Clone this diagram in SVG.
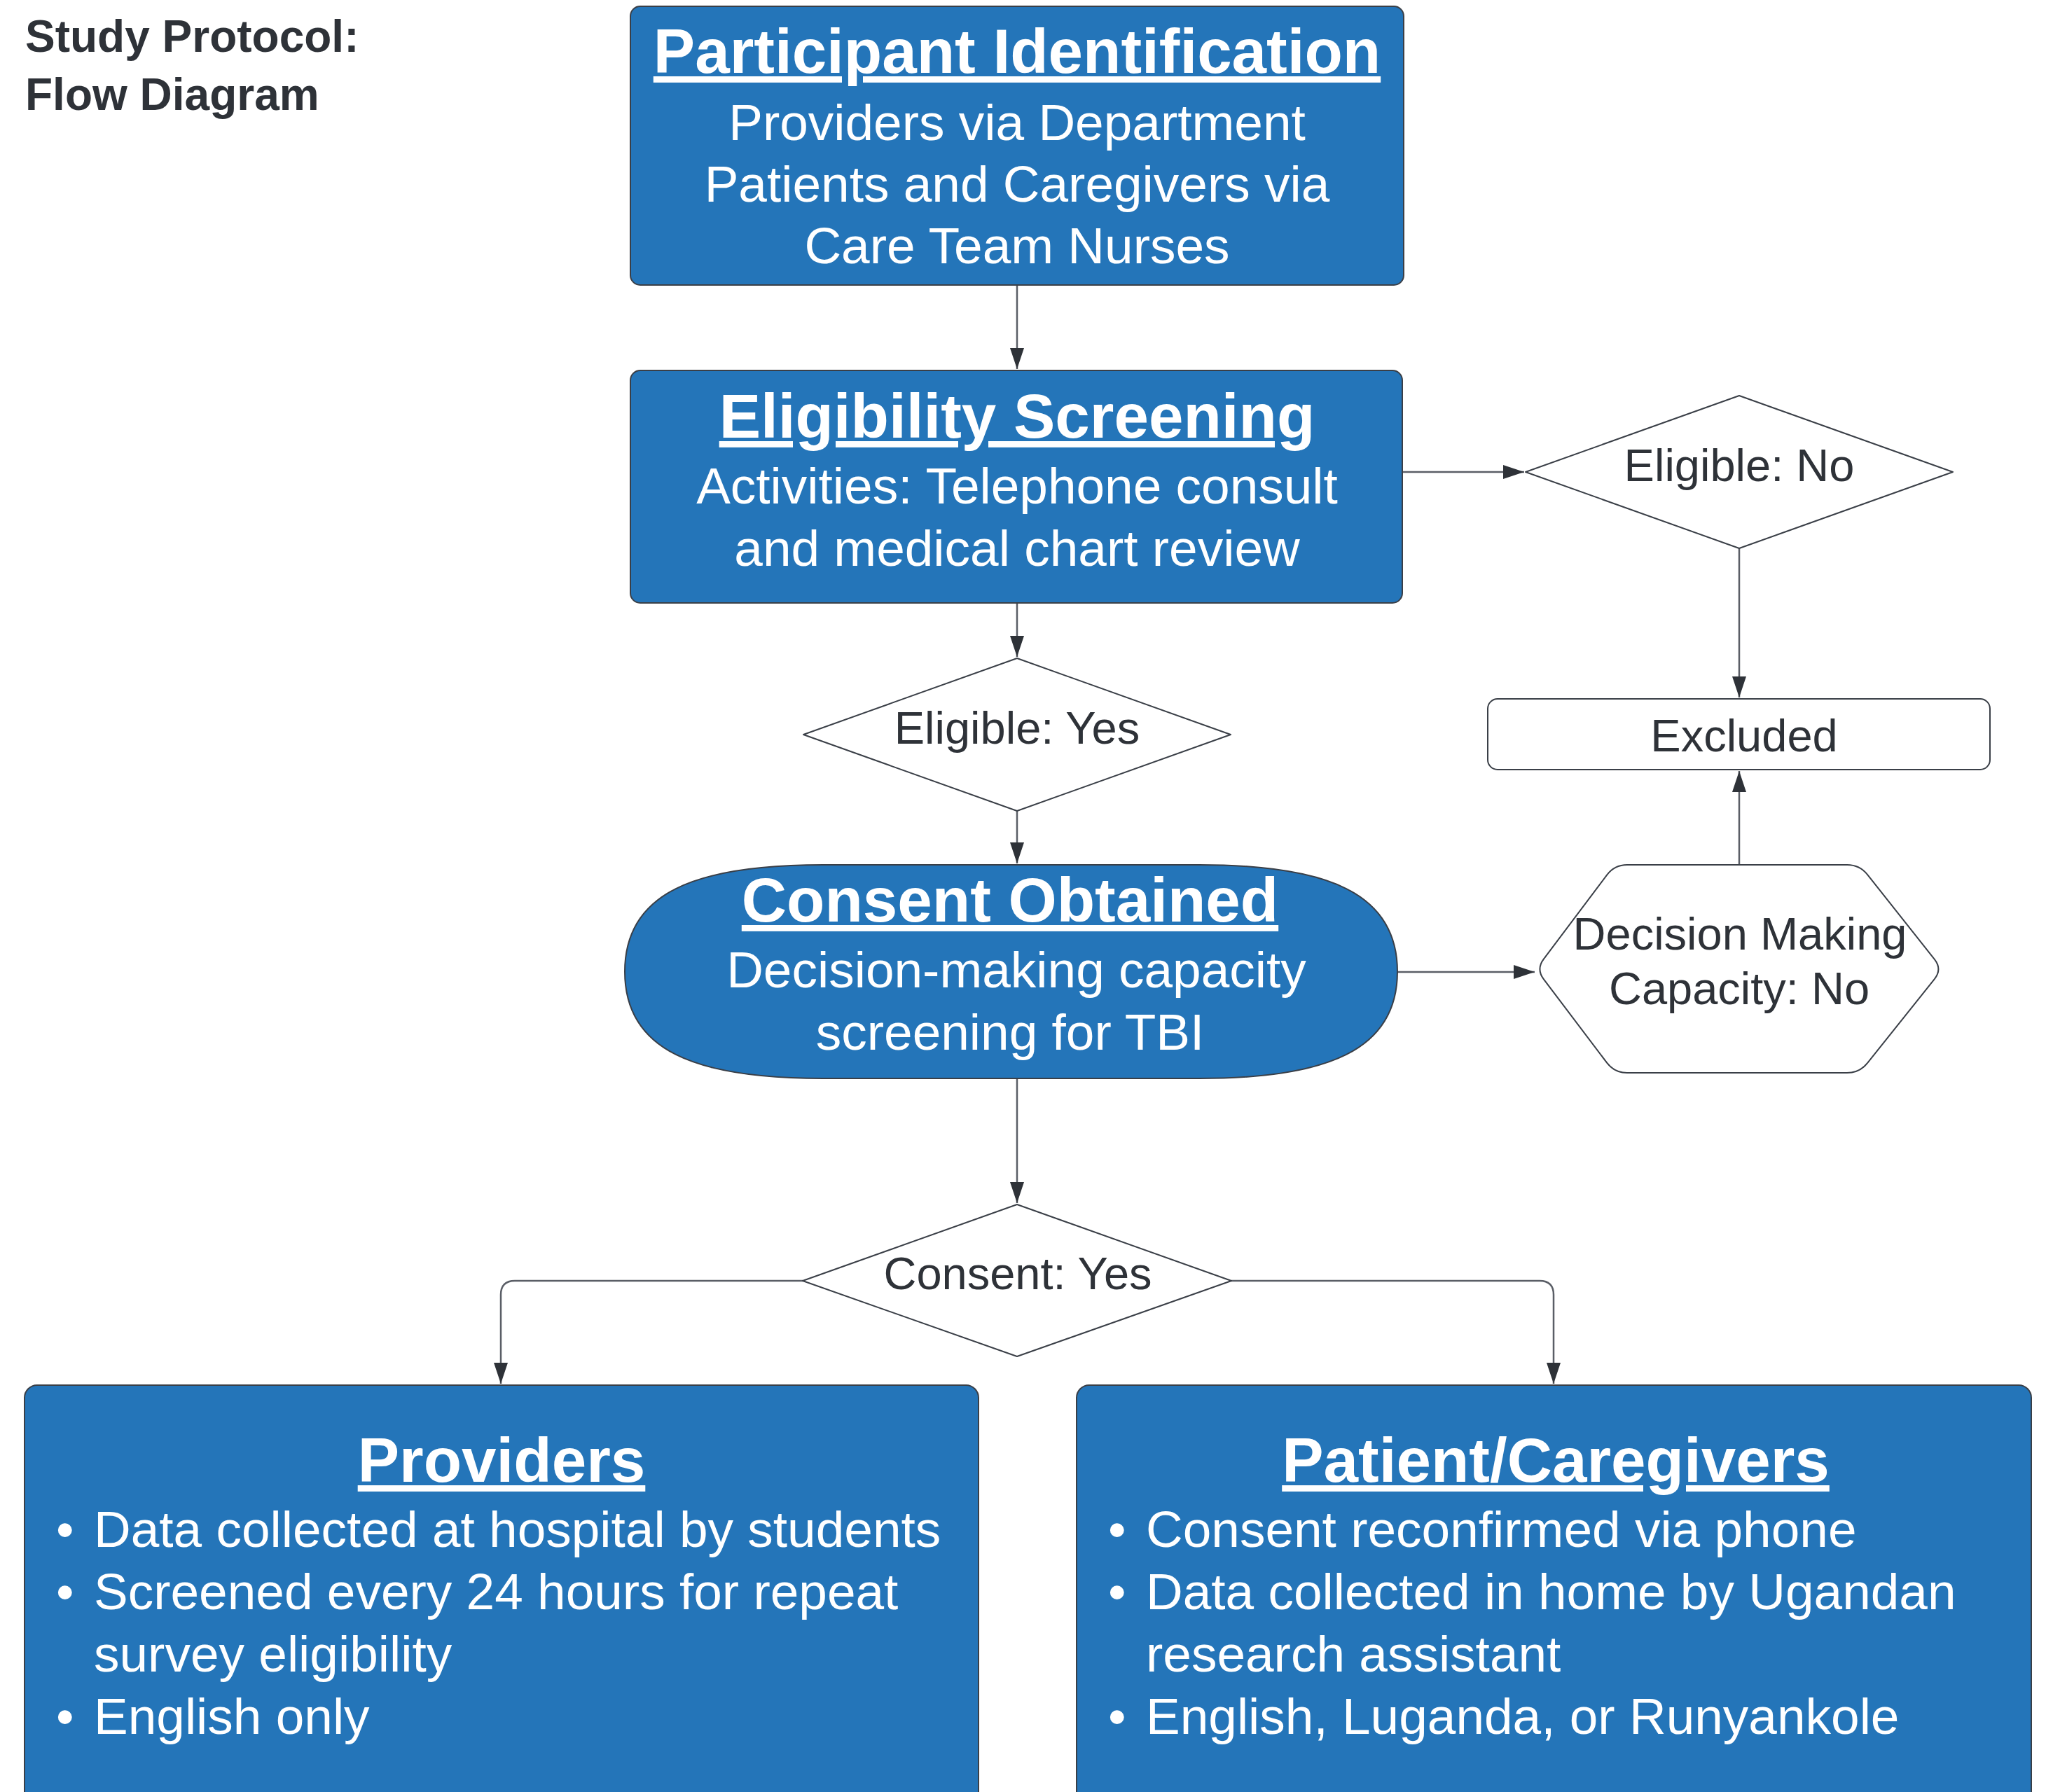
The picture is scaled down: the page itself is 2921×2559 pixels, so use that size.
<svg xmlns="http://www.w3.org/2000/svg" width="2921" height="2559" viewBox="0 0 2921 2559">
<style>
.blue{fill:#2475b9;stroke:#3a3f47;stroke-width:2}
.white{fill:#ffffff;stroke:#3a3f47;stroke-width:2;stroke-linejoin:round}
.hd{font-family:"Liberation Sans",Arial,sans-serif;font-weight:bold;font-size:89px;fill:#ffffff;text-anchor:middle;text-decoration:underline}
.bd{font-family:"Liberation Sans",Arial,sans-serif;font-size:73px;fill:#ffffff}
.c{text-anchor:middle}
.lb{font-family:"Liberation Sans",Arial,sans-serif;font-size:65px;fill:#2e3238;text-anchor:middle}
.ttl{font-family:"Liberation Sans",Arial,sans-serif;font-weight:bold;font-size:64px;fill:#2e3238}
.conn{fill:none;stroke:#5a5e66;stroke-width:2.5}
</style>
<defs>
<marker id="arr" markerUnits="userSpaceOnUse" markerWidth="32" markerHeight="22" refX="30" refY="10" orient="auto">
<path d="M0,0 L30,10 L0,20 Z" fill="#2e3238"/>
</marker>
</defs>
<rect width="2921" height="2559" fill="#ffffff"/>

<g id="title">
<text class="ttl" x="36" y="74">Study Protocol:</text>
<text class="ttl" x="36" y="157">Flow Diagram</text>
</g>

<g id="connectors">
<path class="conn" d="M1452 407 V527" marker-end="url(#arr)"/>
<path class="conn" d="M1452 861 V938" marker-end="url(#arr)"/>
<path class="conn" d="M2002 674 H2176" marker-end="url(#arr)"/>
<path class="conn" d="M2483 783 V996" marker-end="url(#arr)"/>
<path class="conn" d="M1452 1158 V1233" marker-end="url(#arr)"/>
<path class="conn" d="M1995 1388 H2191" marker-end="url(#arr)"/>
<path class="conn" d="M2483 1235 V1101" marker-end="url(#arr)"/>
<path class="conn" d="M1452 1540 V1718" marker-end="url(#arr)"/>
<path class="conn" d="M1146 1829 H735 Q715 1829 715 1849 V1976" marker-end="url(#arr)"/>
<path class="conn" d="M1758 1829 H2198 Q2218 1829 2218 1849 V1976" marker-end="url(#arr)"/>
</g>

<g id="participant-identification">
<rect class="blue" x="900" y="9" width="1104" height="398" rx="14"/>
<text class="hd" x="1452" y="104">Participant Identification</text>
<text class="bd c" x="1452" y="200">Providers via Department</text>
<text class="bd c" x="1452" y="288">Patients and Caregivers via</text>
<text class="bd c" x="1452" y="376">Care Team Nurses</text>
</g>

<g id="eligibility-screening">
<rect class="blue" x="900" y="529" width="1102" height="332" rx="14"/>
<text class="hd" x="1452" y="625">Eligibility Screening</text>
<text class="bd c" x="1452" y="719">Activities: Telephone consult</text>
<text class="bd c" x="1452" y="808">and medical chart review</text>
</g>

<g id="eligible-no">
<polygon class="white" points="2483,565 2788,674 2483,783 2178,674"/>
<text class="lb" x="2483" y="687">Eligible: No</text>
</g>

<g id="excluded">
<rect class="white" x="2124" y="998" width="717" height="101" rx="14"/>
<text class="lb" x="2490" y="1073">Excluded</text>
</g>

<g id="eligible-yes">
<polygon class="white" points="1452,940 1757,1049 1452,1158 1147,1049"/>
<text class="lb" x="1452" y="1062">Eligible: Yes</text>
</g>

<g id="consent-obtained">
<path class="blue" d="M1175 1235 H1712 C1895 1235 1995 1275 1995 1387.5 C1995 1500 1895 1540 1712 1540 H1175 C992 1540 892 1500 892 1387.5 C892 1275 992 1235 1175 1235 Z"/>
<text class="hd" x="1442" y="1316">Consent Obtained</text>
<text class="bd c" x="1451" y="1410">Decision-making capacity</text>
<text class="bd c" x="1442" y="1499">screening for TBI</text>
</g>

<g id="decision-making-capacity-no">
<path class="white" d="M2203.8,1369.6 L2294.2,1249.4 Q2305,1235 2323,1235 L2637,1235 Q2655,1235 2666.2,1249.1 L2761.8,1369.9 Q2773,1384 2761.8,1398.1 L2666.2,1517.9 Q2655,1532 2637,1532 L2323,1532 Q2305,1532 2294.1,1517.7 L2203.9,1398.3 Q2193,1384 2203.8,1369.6 Z"/>
<text class="lb" x="2484" y="1356">Decision Making</text>
<text class="lb" x="2483" y="1434">Capacity: No</text>
</g>

<g id="consent-yes">
<polygon class="white" points="1452,1720 1758,1829 1452,1937 1146,1829"/>
<text class="lb" x="1453" y="1841">Consent: Yes</text>
</g>

<g id="providers">
<rect class="blue" x="35" y="1978" width="1362" height="640" rx="18"/>
<text class="hd" x="716" y="2116">Providers</text>
<text class="bd" x="80" y="2209">•</text>
<text class="bd" x="134" y="2209">Data collected at hospital by students</text>
<text class="bd" x="80" y="2298">•</text>
<text class="bd" x="134" y="2298">Screened every 24 hours for repeat</text>
<text class="bd" x="134" y="2387">survey eligibility</text>
<text class="bd" x="80" y="2476">•</text>
<text class="bd" x="134" y="2476">English only</text>
</g>

<g id="patient-caregivers">
<rect class="blue" x="1537" y="1978" width="1363" height="640" rx="18"/>
<text class="hd" x="2221" y="2116">Patient/Caregivers</text>
<text class="bd" x="1582" y="2209">•</text>
<text class="bd" x="1636" y="2209">Consent reconfirmed via phone</text>
<text class="bd" x="1582" y="2298">•</text>
<text class="bd" x="1636" y="2298">Data collected in home by Ugandan</text>
<text class="bd" x="1636" y="2387">research assistant</text>
<text class="bd" x="1582" y="2476">•</text>
<text class="bd" x="1636" y="2476">English, Luganda, or Runyankole</text>
</g>
</svg>
